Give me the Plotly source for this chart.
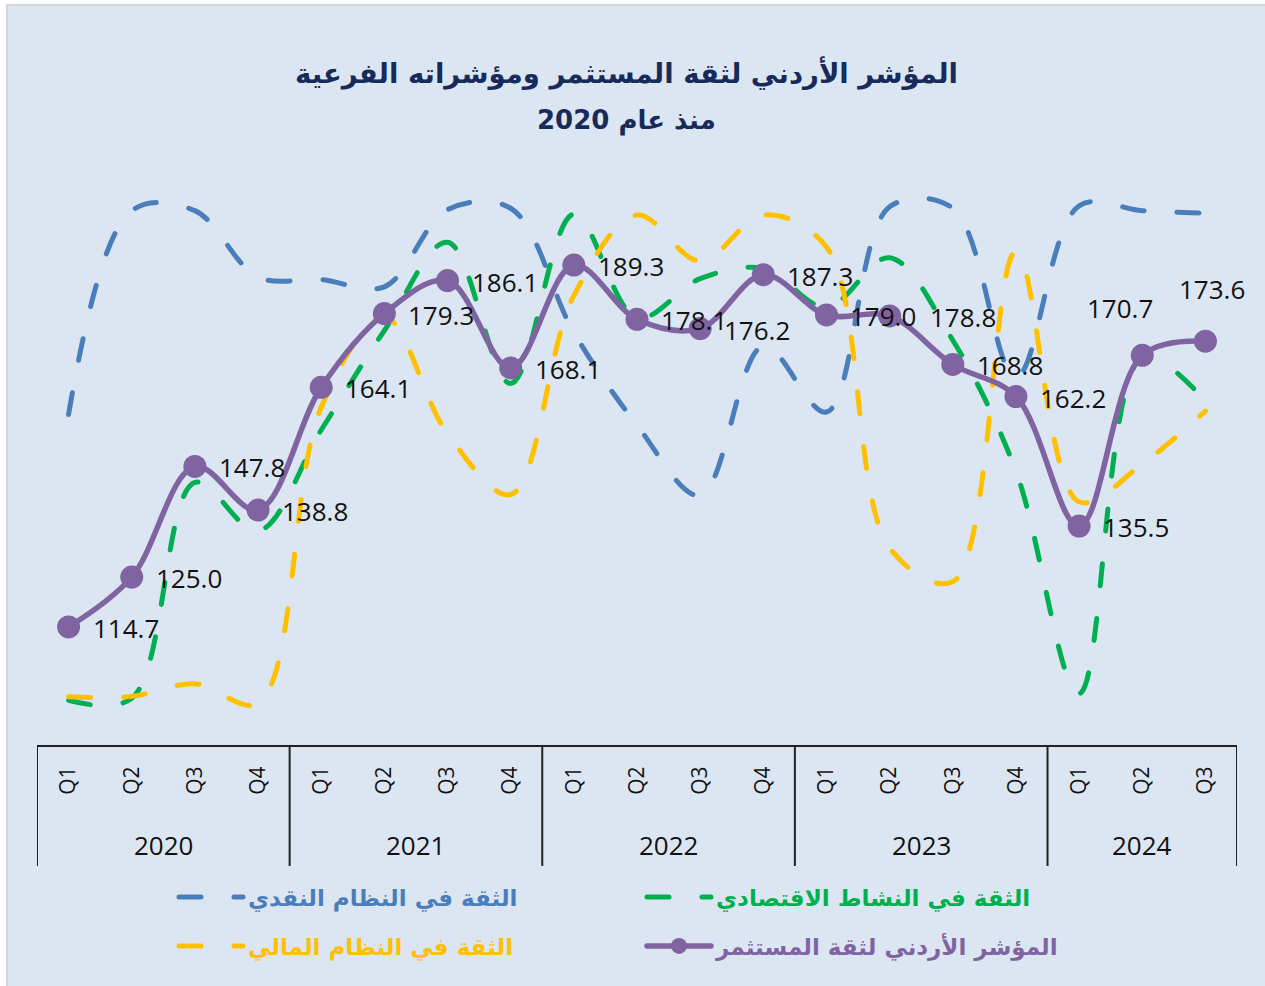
import plotly.graph_objects as go

# ---------------- data ----------------
years = ["2020", "2021", "2022", "2023", "2024"]
quarters_per_year = [4, 4, 4, 4, 3]
quarters = ["Q1", "Q2", "Q3", "Q4", "Q1", "Q2", "Q3", "Q4", "Q1", "Q2", "Q3", "Q4",
            "Q1", "Q2", "Q3", "Q4", "Q1", "Q2", "Q3"]

index_vals = [114.7, 125.0, 147.8, 138.8, 164.1, 179.3, 186.1, 168.1, 189.3, 178.1,
              176.2, 187.3, 179.0, 178.8, 168.8, 162.2, 135.5, 170.7, 173.6]
monetary_vals = [158.5, 200.5, 200.5, 186.8, 186.3, 184.8, 200.7, 201.0, 175.4, 156.3,
                 141.8, 172.6, 159.0, 201.3, 201.0, 166.2, 201.5, 200.5, 200.0]
economic_vals = [99.6, 100.0, 144.5, 134.5, 155.3, 175.8, 194.0, 164.9, 199.8, 178.4,
                 186.5, 188.6, 180.6, 190.8, 173.8, 146.8, 101.0, 170.2, 161.3]
financial_vals = [100.3, 100.4, 103.0, 99.0, 160.0, 178.5, 154.5, 142.0, 183.0, 199.6,
                  190.1, 199.6, 193.0, 131.0, 124.0, 192.0, 140.5, 148.3, 159.2]

name_index = "المؤشر الأردني لثقة المستثمر"
name_monetary = "الثقة في النظام النقدي"
name_economic = "الثقة في النشاط الاقتصادي"
name_financial = "الثقة في النظام المالي"

title_line1 = "المؤشر الأردني لثقة المستثمر ومؤشراته الفرعية"
title_line2 = "منذ عام 2020"

# ---------------- layout geometry (pixels) ----------------
W, H = 1265, 986
ML, MR, MT, MB = 37, 28, 170, 241
PW = W - ML - MR
PH = H - MT - MB
Y_RANGE = [90.38, 208.88]


def px_x(px):
    return (px - ML) / PW


def px_y(py):
    return 1 - (py - MT) / PH


BLUE = "#4a7ebb"
GREEN = "#00b050"
YELLOW = "#ffc000"
PURPLE = "#8064a2"
NAVY = "#172b5a"
BG = "#dce6f2"

AR_FONT = "DejaVu Sans"
NUM_FONT = "Open Sans"
DASH = "22px,33px"

x = list(range(len(quarters)))

fig = go.Figure()

fig.add_trace(go.Scatter(
    x=x, y=monetary_vals, name=name_monetary, mode="lines",
    line=dict(color=BLUE, width=5, dash=DASH, shape="spline", smoothing=1),
    legend="legend", hoverinfo="skip"))
fig.add_trace(go.Scatter(
    x=x, y=economic_vals, name=name_economic, mode="lines",
    line=dict(color=GREEN, width=5, dash=DASH, shape="spline", smoothing=1),
    legend="legend2", hoverinfo="skip"))
fig.add_trace(go.Scatter(
    x=x, y=financial_vals, name=name_financial, mode="lines",
    line=dict(color=YELLOW, width=5, dash=DASH, shape="spline", smoothing=1),
    legend="legend3", hoverinfo="skip"))
fig.add_trace(go.Scatter(
    x=x, y=index_vals, name=name_index, mode="lines+markers",
    line=dict(color=PURPLE, width=5.5, shape="spline", smoothing=1),
    marker=dict(color=PURPLE, size=23),
    legend="legend4", hoverinfo="skip"))

# ---------------- data labels ----------------
label_adjust = {
    13: dict(xshift=38),
    17: dict(xanchor="center", xshift=-22, yshift=47),
    18: dict(xanchor="center", xshift=7, yshift=52),
}
annotations = []
for i, v in enumerate(index_vals):
    kw = dict(xanchor="left", xshift=22, yshift=-1)
    kw.update(label_adjust.get(i, {}))
    annotations.append(dict(
        x=i, y=v, xref="x", yref="y", text=f"{v:.1f}", showarrow=False,
        yanchor="middle", font=dict(family=NUM_FONT, size=26, color="#111111"), **kw))

# ---------------- year labels and dividers ----------------
shapes = []
start = 0
bounds = [-0.5]
for yr, n in zip(years, quarters_per_year):
    center = start + (n - 1) / 2
    annotations.append(dict(
        x=center, y=px_y(845), xref="x", yref="paper", text=yr, showarrow=False,
        xanchor="center", yanchor="middle",
        font=dict(family=NUM_FONT, size=26, color="#111111")))
    start += n
    bounds.append(start - 0.5)
for b in bounds:
    shapes.append(dict(type="line", xref="x", yref="paper", x0=b, x1=b,
                       y0=0, y1=px_y(866), line=dict(color="#222222", width=2)))

# background frame
shapes.append(dict(type="rect", xref="paper", yref="paper", layer="below",
                   x0=px_x(7), x1=px_x(1275), y0=px_y(995), y1=px_y(5),
                   fillcolor=BG, line=dict(color="#d4d4d4", width=2)))

# second title line
annotations.append(dict(
    x=px_x(626.5), y=px_y(120), xref="paper", yref="paper", text=title_line2,
    showarrow=False, xanchor="center", yanchor="middle",
    font=dict(family=AR_FONT, size=26, color=NAVY, weight="bold")))


def legend_cfg(px, py, color):
    return dict(x=px_x(px), y=px_y(py), xanchor="left", yanchor="middle",
                orientation="v", bgcolor="rgba(0,0,0,0)", itemwidth=64,
                font=dict(family=AR_FONT, size=23, color=color, weight="bold"))


fig.update_layout(
    width=W, height=H, autosize=False,
    margin=dict(l=ML, r=MR, t=MT, b=MB, pad=0),
    paper_bgcolor="white", plot_bgcolor="rgba(0,0,0,0)",
    title=dict(text=title_line1, x=626.5 / W, xref="container", xanchor="center",
               y=1 - 73 / H, yref="container", yanchor="middle",
               font=dict(family=AR_FONT, size=27.5, color=NAVY, weight="bold")),
    xaxis=dict(range=[-0.5, len(quarters) - 0.5], tickmode="array", tickvals=x,
               ticktext=quarters, tickangle=-90, ticks="", showgrid=False,
               zeroline=False, showline=True, linecolor="#222222", linewidth=2,
               ticklabelstandoff=11,
               tickfont=dict(family=NUM_FONT, size=21, color="#111111")),
    yaxis=dict(range=Y_RANGE, showgrid=False, zeroline=False, showline=False,
               showticklabels=False, ticks=""),
    legend=legend_cfg(174, 897, BLUE),
    legend2=legend_cfg(642, 897, GREEN),
    legend3=legend_cfg(174, 946, YELLOW),
    legend4=legend_cfg(642, 946, PURPLE),
    annotations=annotations,
    shapes=shapes,
    showlegend=True,
)

js = """
document.body.style.margin = '0';
document.body.style.overflow = 'hidden';
var gd = document.getElementById('{plot_id}');
function roundCaps(){
  gd.querySelectorAll('path.js-line').forEach(function(p){ p.style.strokeLinecap = 'round'; });
}
roundCaps();
gd.on('plotly_afterplot', roundCaps);
"""

fig.write_html("out.html", post_script=js, config={"displayModeBar": False})
